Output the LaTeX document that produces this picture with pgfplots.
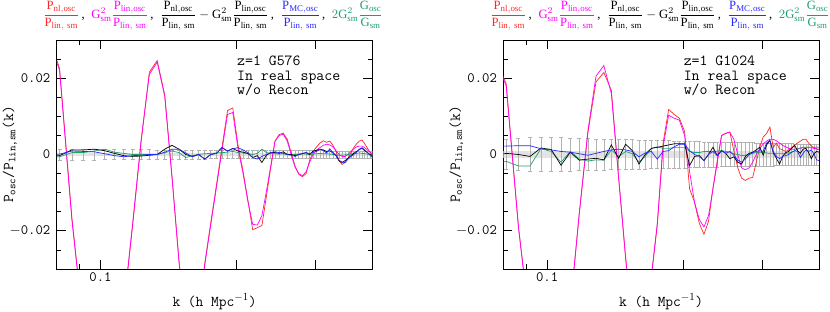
\documentclass[border=0pt]{standalone}
\usepackage{fontspec}
\setmainfont{Liberation Serif}
\usepackage{amsmath}
\usepackage{graphicx}
\usepackage{pgfplots}
\usepackage{pgfplotstable}
\pgfplotsset{compat=1.18}
\definecolor{pred}{RGB}{255,40,40}
\definecolor{pmag}{RGB}{255,0,255}
\definecolor{pblue}{RGB}{40,40,255}
\definecolor{pgreen}{RGB}{30,160,110}

\pgfplotstableread{
k M R B U G E
0.07592 0.032 0.033 -0.0005 0.0000 -0.0008 0.0014
0.08115 0.022 0.0225 -0.0003 0.0001 -0.0006 0.0014
0.08639 -0.017 -0.0165 0.0012 0.0009 0.0005 0.0014
0.09163 -0.045 -0.045 0.0012 0.0008 0.0005 0.0014
0.09687 -0.058 -0.058 0.0014 0.0007 0.0009 0.0014
0.10210 -0.060 -0.060 0.0010 0.0002 0.0014 0.0013
0.10734 -0.053 -0.053 0.0003 -0.0003 0.0006 0.0013
0.11258 -0.040 -0.040 -0.0003 -0.0006 0.0003 0.0013
0.11781 -0.018 -0.0185 -0.0005 -0.0003 0.0000 0.0013
0.12305 0.004 0.0035 -0.0004 -0.0002 0.0000 0.0013
0.12829 0.021 0.0216 -0.0002 0.0000 0.0000 0.0013
0.13352 0.0242 0.0246 0.0000 0.0000 0.0000 0.0012
0.13876 0.0152 0.0156 0.0014 0.0006 0.0005 0.0012
0.14400 -0.006 -0.0058 0.0024 0.0014 0.0009 0.0012
0.14923 -0.028 -0.028 0.0014 0.0014 0.0005 0.0012
0.15447 -0.045 -0.045 0.0000 0.0004 -0.0008 0.0012
0.15971 -0.052 -0.052 -0.0005 -0.0006 -0.0003 0.0012
0.16494 -0.045 -0.045 0.0000 0.0000 0.0000 0.0012
0.17018 -0.029 -0.0285 -0.0012 -0.0012 0.0002 0.0012
0.17542 -0.0185 -0.018 0.0000 0.0000 0.0003 0.0011
0.18065 -0.0086 -0.008 0.0003 0.0003 0.0004 0.0011
0.18589 0.0012 0.0020 0.0018 0.0018 0.0005 0.0011
0.19113 0.0105 0.0115 0.0009 0.0009 0.0006 0.0011
0.19636 0.0110 0.0122 0.0016 0.0015 0.0008 0.0011
0.20160 0.0016 0.0025 0.0009 0.0018 0.0005 0.0011
0.20684 -0.0049 -0.0043 0.0006 0.0012 0.0004 0.0011
0.21207 -0.0123 -0.0120 0.0003 0.0005 0.0002 0.0011
0.21731 -0.0183 -0.0197 -0.0008 -0.0008 0.0000 0.0011
0.22255 -0.0185 -0.0192 -0.0003 -0.0012 0.0003 0.0011
0.22778 -0.0160 -0.0186 -0.0021 -0.0005 0.0014 0.0010
0.23302 -0.0097 -0.0110 -0.0002 0.0000 0.0005 0.0010
0.23826 -0.0030 -0.0035 0.0005 0.0005 0.0003 0.0010
0.24349 0.0034 0.0035 0.0005 0.0007 0.0002 0.0010
0.24873 0.0050 0.0052 0.0003 0.0005 0.0001 0.0010
0.25397 0.0053 0.0056 0.0007 0.0003 0.0002 0.0010
0.25920 0.0035 0.0040 0.0000 0.0000 0.0000 0.0010
0.26444 0.0000 0.0005 0.0000 -0.0002 -0.0001 0.0010
0.26968 -0.0033 -0.0030 -0.0003 -0.0005 0.0000 0.0010
0.27491 -0.0050 -0.0052 0.0000 0.0000 0.0001 0.0010
0.28015 -0.0056 -0.0058 0.0002 0.0003 0.0002 0.0010
0.28539 -0.0045 -0.0050 0.0005 0.0005 0.0001 0.0010
0.29062 -0.0020 -0.0015 0.0000 0.0002 0.0000 0.0010
0.29586 0.0000 0.0008 0.0009 0.0006 0.0001 0.0010
0.30110 0.0012 0.0020 0.0011 0.0008 0.0002 0.0010
0.30633 0.0018 0.0030 0.0014 0.0014 0.0003 0.0010
0.31157 0.0024 0.0036 0.0012 0.0010 0.0002 0.0010
0.31681 0.0027 0.0032 0.0008 0.0004 0.0002 0.0009
0.32204 0.0025 0.0035 0.0010 0.0015 0.0001 0.0009
0.32728 0.0020 0.0024 0.0004 0.0005 0.0000 0.0009
0.33252 0.0010 0.0008 -0.0003 -0.0003 -0.0001 0.0009
0.33775 0.0000 -0.0017 -0.0017 -0.0015 -0.0002 0.0009
0.34299 -0.0005 -0.0026 -0.0021 -0.0020 -0.0002 0.0009
0.34823 -0.0005 -0.0021 -0.0016 -0.0021 -0.0001 0.0009
0.35346 0.0000 -0.0010 -0.0010 -0.0012 0.0000 0.0009
0.35870 0.0008 0.0005 -0.0003 -0.0005 0.0001 0.0009
0.36394 0.0015 0.0018 0.0003 0.0000 0.0002 0.0009
0.36917 0.0020 0.0028 0.0008 0.0006 0.0003 0.0009
0.37441 0.0022 0.0035 0.0013 0.0014 0.0004 0.0009
0.37965 0.0022 0.0038 0.0016 0.0018 0.0003 0.0009
0.38488 0.0018 0.0028 0.0010 0.0012 0.0002 0.0009
0.39012 0.0012 0.0017 0.0005 0.0006 0.0001 0.0009
0.39536 0.0006 0.0006 0.0000 -0.0002 0.0000 0.0009
0.40059 0.0002 -0.0001 -0.0003 -0.0008 -0.0001 0.0009
}\tabL

\pgfplotstableread{
k M R B U G E
0.07592 0.026 0.027 -0.0005 0.0022 -0.0025 0.0040
0.08115 0.018 0.0185 0.0003 0.0022 -0.0018 0.0040
0.08639 -0.019 -0.019 0.0000 0.0023 -0.0030 0.0042
0.09163 -0.045 -0.045 -0.0005 0.0023 -0.0030 0.0044
0.09687 -0.058 -0.058 0.0017 0.0015 0.0015 0.0045
0.10210 -0.060 -0.060 0.0013 0.0012 0.0008 0.0045
0.10734 -0.053 -0.053 -0.0028 0.0008 -0.0020 0.0044
0.11258 -0.040 -0.040 0.0006 0.0006 0.0008 0.0043
0.11781 -0.0155 -0.0155 -0.0015 0.0002 -0.0012 0.0042
0.12305 0.0060 0.0055 -0.0012 -0.0002 -0.0017 0.0042
0.12829 0.0205 0.0190 -0.0010 0.0003 -0.0014 0.0041
0.13352 0.0233 0.0215 -0.0014 0.0008 -0.0015 0.0041
0.13876 0.0160 0.0168 0.0025 0.0012 0.0012 0.0040
0.14400 -0.0060 -0.0060 -0.0010 0.0014 -0.0006 0.0040
0.14923 -0.0270 -0.0270 0.0027 0.0012 0.0008 0.0039
0.15447 -0.045 -0.045 0.0010 0.0008 0.0002 0.0039
0.15971 -0.052 -0.052 -0.0025 -0.0006 -0.0020 0.0038
0.16494 -0.045 -0.045 0.0000 0.0004 -0.0005 0.0038
0.17018 -0.032 -0.032 0.0016 0.0008 0.0016 0.0037
0.17542 -0.018 -0.0185 0.0019 -0.0012 0.0020 0.0037
0.18065 0.002 0.003 0.0022 0.0008 0.0016 0.0036
0.18589 0.0103 0.0118 0.0025 0.0010 0.0016 0.0036
0.19113 0.0095 0.0105 0.0028 0.0020 0.0018 0.0035
0.19636 0.0090 0.0095 0.0028 0.0027 0.0018 0.0035
0.20160 0.0050 0.0060 0.0028 0.0027 0.0018 0.0035
0.20684 -0.0045 -0.0090 -0.0029 0.0010 0.0008 0.0034
0.21207 -0.0125 -0.0125 -0.0005 0.0000 0.0005 0.0034
0.21731 -0.0170 -0.0180 -0.0003 -0.0005 0.0005 0.0034
0.22255 -0.0190 -0.0209 -0.0016 -0.0016 0.0008 0.0033
0.22778 -0.0160 -0.0175 0.0000 0.0000 0.0008 0.0033
0.23302 -0.0090 -0.0088 0.0019 0.0008 0.0007 0.0033
0.23826 -0.0020 -0.0015 -0.0003 -0.0003 0.0009 0.0033
0.24349 0.0050 0.0050 0.0010 0.0010 0.0010 0.0032
0.24873 0.0056 0.0055 0.0003 0.0003 0.0008 0.0032
0.25397 0.0058 0.0059 -0.0011 0.0008 0.0006 0.0032
0.25920 0.0040 0.0010 -0.0006 -0.0002 0.0002 0.0032
0.26444 0.0000 -0.0035 -0.0020 -0.0015 0.0000 0.0031
0.26968 -0.0035 -0.0062 -0.0025 -0.0020 -0.0003 0.0031
0.27491 -0.0040 -0.0068 -0.0005 -0.0012 -0.0002 0.0031
0.28015 -0.0035 -0.0062 0.0003 0.0000 0.0000 0.0031
0.28539 -0.0020 -0.0060 0.0006 0.0005 0.0003 0.0031
0.29062 0.0000 -0.0020 0.0012 0.0008 0.0005 0.0030
0.29586 0.0015 0.0019 0.0019 0.0010 0.0006 0.0030
0.30110 0.0028 0.0046 -0.0002 0.0008 0.0005 0.0030
0.30633 0.0035 0.0055 0.0025 0.0030 0.0004 0.0030
0.31157 0.0040 0.0072 0.0037 0.0037 0.0003 0.0030
0.31681 0.0040 0.0019 0.0005 0.0008 0.0003 0.0030
0.32204 0.0036 0.0030 -0.0010 -0.0005 0.0003 0.0029
0.32728 0.0030 0.0015 -0.0025 -0.0011 0.0003 0.0029
0.33252 0.0024 0.0012 -0.0005 -0.0005 0.0003 0.0029
0.33775 0.0020 0.0008 0.0005 -0.0003 0.0003 0.0029
0.34299 0.0016 0.0012 0.0008 0.0000 0.0004 0.0029
0.34823 0.0014 0.0018 0.0016 0.0006 0.0006 0.0029
0.35346 0.0014 0.0025 0.0024 0.0010 0.0010 0.0028
0.35870 0.0015 0.0030 0.0010 0.0008 0.0014 0.0028
0.36394 0.0016 0.0035 0.0003 -0.0008 0.0017 0.0028
0.36917 0.0018 0.0040 0.0014 0.0003 0.0019 0.0028
0.37441 0.0018 0.0040 0.0016 0.0012 0.0019 0.0028
0.37965 0.0018 0.0030 0.0005 0.0008 0.0019 0.0028
0.38488 0.0017 0.0022 -0.0011 0.0012 0.0019 0.0028
0.39012 0.0016 0.0018 0.0002 0.0002 0.0019 0.0028
0.39536 0.0015 0.0014 0.0008 -0.0014 0.0019 0.0028
0.40059 0.0014 0.0012 0.0006 -0.0016 0.0019 0.0028
}\tabR

\newcommand{\Pfr}[2]{\dfrac{\mathrm{P}_{\mathrm{#1}}}{\mathrm{P}_{\mathrm{#2}}}}
\newcommand{\ttl}{%
  $\color{pred}\Pfr{nl{,}osc}{lin{,}\ sm}$\,,\;
  $\color{pmag}\mathrm{G}^2_{\mathrm{sm}}\Pfr{lin{,}osc}{lin{,}\ sm}$\,,\;
  $\Pfr{nl{,}osc}{lin{,}\ sm}-\mathrm{G}^2_{\mathrm{sm}}\Pfr{lin{,}osc}{lin{,}\ sm}$\,,\;
  $\color{pblue}\Pfr{MC{,}osc}{lin{,}\ sm}$\,,\;
  $\color{pgreen}2\mathrm{G}^2_{\mathrm{sm}}\dfrac{\mathrm{G}_{\mathrm{osc}}}{\mathrm{G}_{\mathrm{sm}}}$}

\begin{document}
\begin{tikzpicture}
\useasboundingbox (0,0) rectangle (830pt,312pt);

\node[anchor=center, inner sep=0pt] at (213pt,296pt) {\resizebox{340pt}{!}{\ttl}};
\node[anchor=center, inner sep=0pt] at (660pt,296pt) {\resizebox{340pt}{!}{\ttl}};

\begin{axis}[at={(56.8pt,43pt)}, anchor=south west,
    xmode=log, xmin=0.08, xmax=0.4, ymin=-0.03, ymax=0.03,
    width=315.5pt, height=229pt, scale only axis,
    scaled y ticks=false,
    axis line style={line width=0.8pt},
    xtick={0.1,0.2,0.3}, xticklabels={0.1,,},
    minor xtick={0.09},
    ytick={-0.02,0,0.02}, yticklabels={$-$0.02,0,0.02},
    minor ytick={-0.025,-0.015,-0.01,-0.005,0.005,0.01,0.015,0.025},
    tick align=inside, major tick length=9pt, minor tick length=4.5pt,
    tick style={line width=0.8pt, black},
    tick label style={font=\ttfamily\fontsize{14.3}{14.3}\selectfont},
    yticklabel style={xshift=-3pt},
    ylabel={P\textsubscript{osc}/P\textsubscript{lin,sm}(k)},
    ylabel style={font=\ttfamily\fontsize{15}{15}\selectfont, at={(axis description cs:-0.149,0.5)}, anchor=center},
    xlabel={k (h Mpc$^{-1}$)},
    xlabel style={font=\ttfamily\fontsize{15}{15}\selectfont, at={(axis description cs:0.5,-0.143)}, anchor=center}]
  \addplot[draw=none, fill=gray!22, forget plot] coordinates {(0.08,-0.0005) (0.4,-0.0005) (0.4,0.0005) (0.08,0.0005)} -- cycle;
  \addplot[draw=none, mark=none, forget plot, error bars/.cd, y dir=both, y explicit,
    error bar style={draw=gray!60, line width=0.6pt},
    error mark options={draw=gray!60, rotate=90, mark size=2pt, line width=0.6pt}]
    table[x=k, y expr=0, y error=E]{\tabL};
  \addplot[line width=0.7pt, mark=none, pred] table[x=k, y=R]{\tabL};
  \addplot[line width=0.7pt, mark=none, pmag] table[x=k, y=M]{\tabL};
  \addplot[line width=0.7pt, mark=none, pgreen] table[x=k, y=G]{\tabL};
  \addplot[line width=0.7pt, mark=none, black] table[x=k, y=B]{\tabL};
  \addplot[line width=0.7pt, mark=none, pblue] table[x=k, y=U]{\tabL};
  \node[anchor=north west, inner sep=0pt, align=left, font=\ttfamily\fontsize{15.4}{14.5}\selectfont] at (rel axis cs:0.571,0.93) {z=1 G576\\In real space\\w/o Recon};
\end{axis}

\begin{axis}[at={(503.4pt,43pt)}, anchor=south west,
    xmode=log, xmin=0.08, xmax=0.4, ymin=-0.03, ymax=0.03,
    width=315.5pt, height=229pt, scale only axis,
    scaled y ticks=false,
    axis line style={line width=0.8pt},
    xtick={0.1,0.2,0.3}, xticklabels={0.1,,},
    minor xtick={0.09},
    ytick={-0.02,0,0.02}, yticklabels={$-$0.02,0,0.02},
    minor ytick={-0.025,-0.015,-0.01,-0.005,0.005,0.01,0.015,0.025},
    tick align=inside, major tick length=9pt, minor tick length=4.5pt,
    tick style={line width=0.8pt, black},
    tick label style={font=\ttfamily\fontsize{14.3}{14.3}\selectfont},
    yticklabel style={xshift=-3pt},
    ylabel={P\textsubscript{osc}/P\textsubscript{lin,sm}(k)},
    ylabel style={font=\ttfamily\fontsize{15}{15}\selectfont, at={(axis description cs:-0.149,0.5)}, anchor=center},
    xlabel={k (h Mpc$^{-1}$)},
    xlabel style={font=\ttfamily\fontsize{15}{15}\selectfont, at={(axis description cs:0.5,-0.143)}, anchor=center}]
  \addplot[draw=none, fill=gray!22, forget plot] coordinates {(0.08,-0.0008) (0.4,-0.0008) (0.4,0.0008) (0.08,0.0008)} -- cycle;
  \addplot[draw=none, mark=none, forget plot, error bars/.cd, y dir=both, y explicit,
    error bar style={draw=gray!60, line width=0.6pt},
    error mark options={draw=gray!60, rotate=90, mark size=2pt, line width=0.6pt}]
    table[x=k, y expr=0, y error=E]{\tabR};
  \addplot[line width=0.7pt, mark=none, pred] table[x=k, y=R]{\tabR};
  \addplot[line width=0.7pt, mark=none, pmag] table[x=k, y=M]{\tabR};
  \addplot[line width=0.7pt, mark=none, pgreen] table[x=k, y=G]{\tabR};
  \addplot[line width=0.7pt, mark=none, black] table[x=k, y=B]{\tabR};
  \addplot[line width=0.7pt, mark=none, pblue] table[x=k, y=U]{\tabR};
  \node[anchor=north west, inner sep=0pt, align=left, font=\ttfamily\fontsize{15.4}{14.5}\selectfont] at (rel axis cs:0.571,0.93) {z=1 G1024\\In real space\\w/o Recon};
\end{axis}
\end{tikzpicture}
\end{document}
